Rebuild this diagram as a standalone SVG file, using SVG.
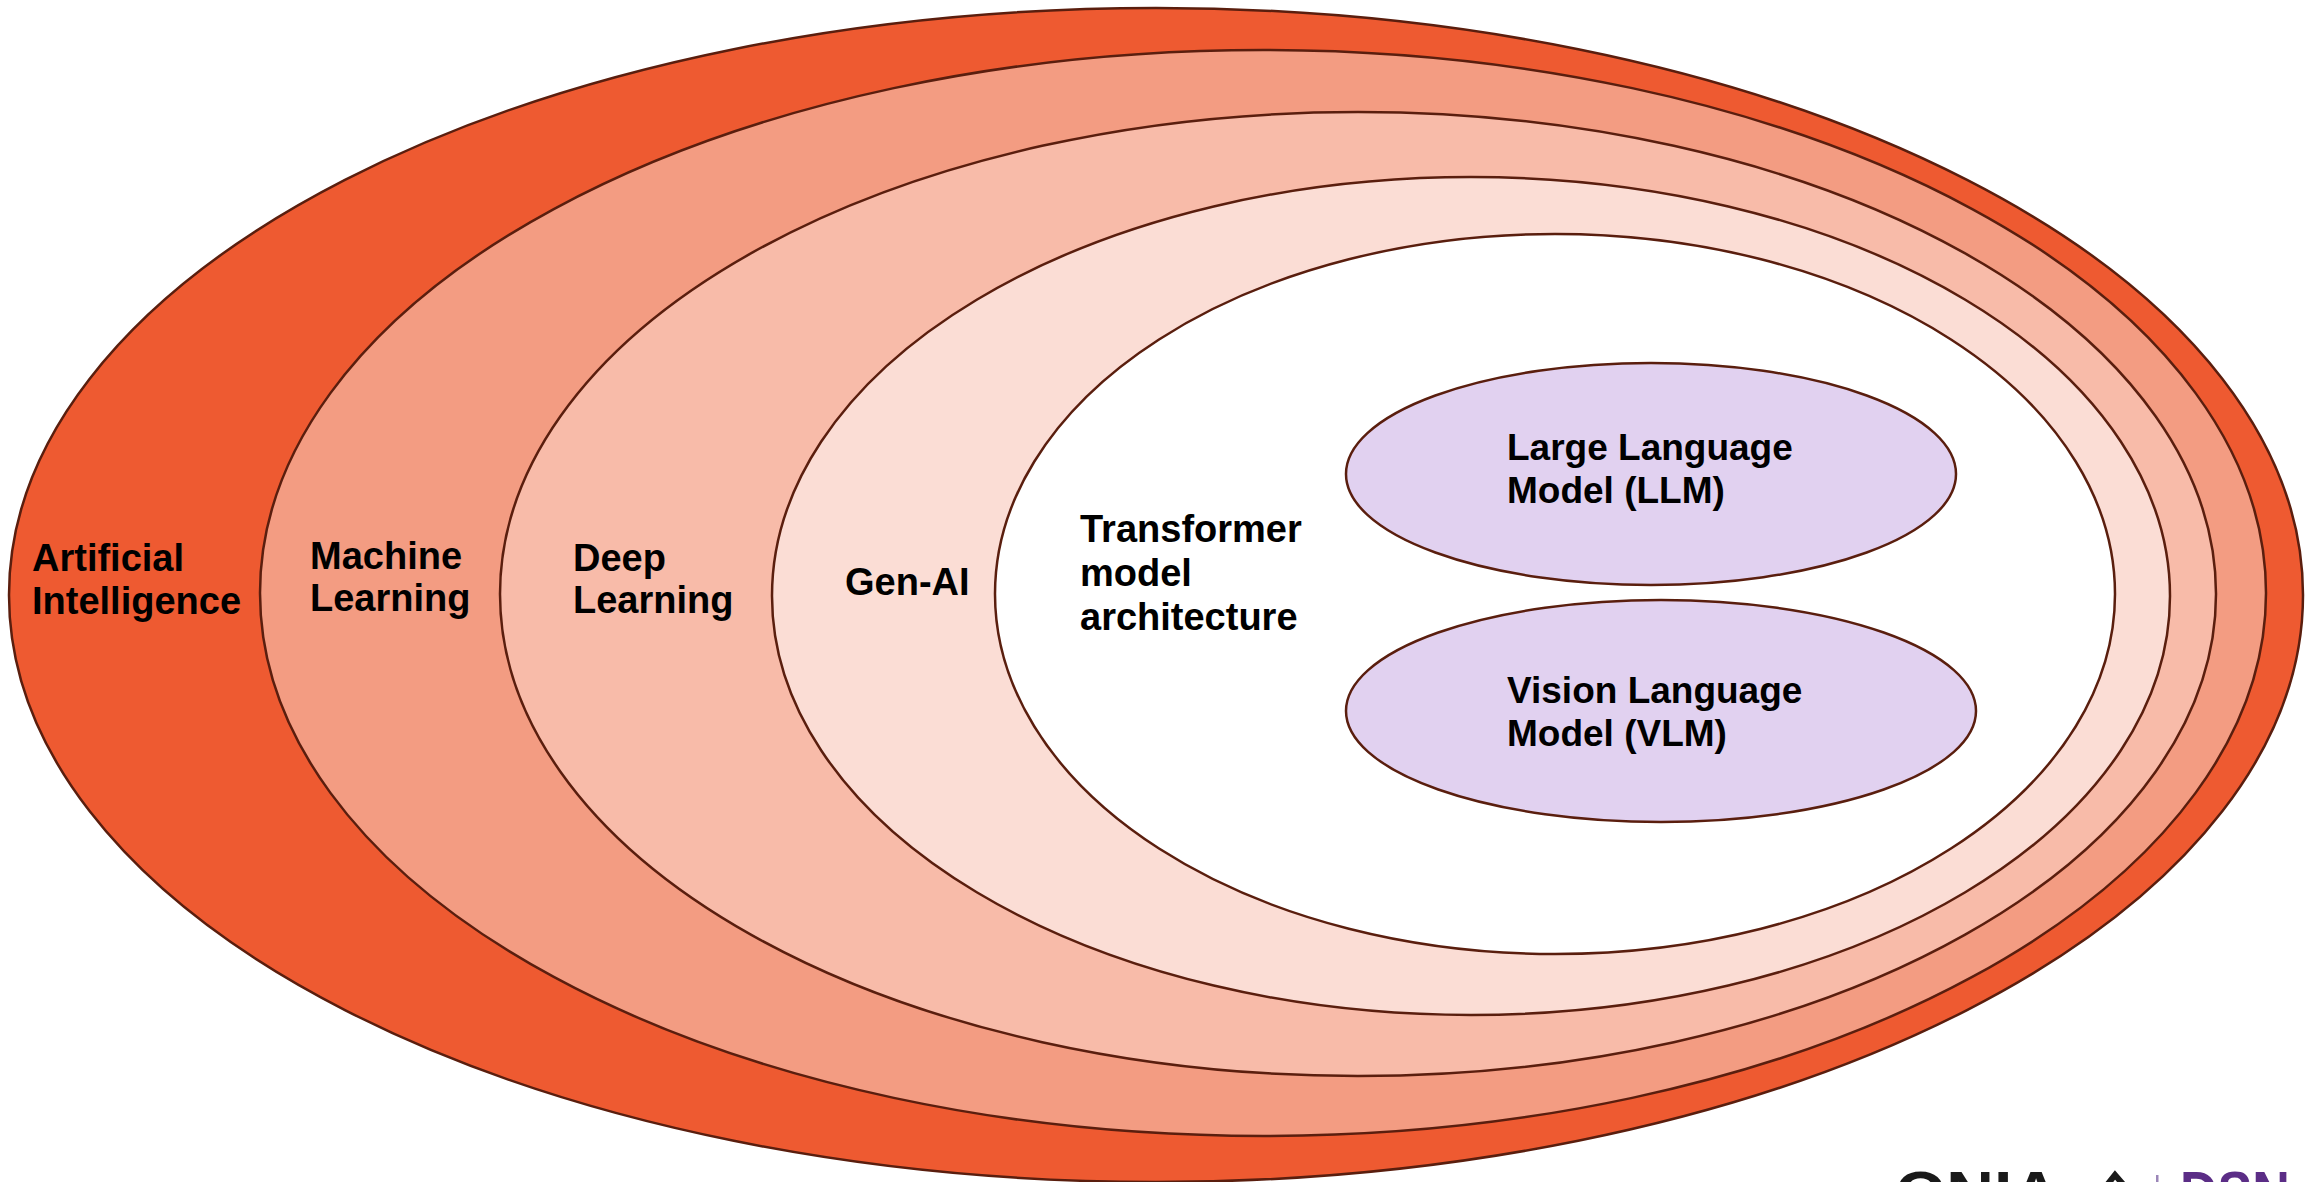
<svg xmlns="http://www.w3.org/2000/svg" width="2318" height="1182" viewBox="0 0 2318 1182">
  <style>
    .ring { stroke: #5a1e0e; stroke-width: 2.5; }
    .lbl { font-family: "Liberation Sans", Arial, sans-serif; font-weight: bold; fill: #000; font-size: 38px; }
    .sm { font-size: 37px; }
  </style>
  <rect width="2318" height="1182" fill="#ffffff"/>
  <g id="ai">
    <ellipse class="ring" cx="1156" cy="595" rx="1147" ry="587" fill="#ee5a31"/>
    <text class="lbl" x="32" y="571">Artificial</text>
    <text class="lbl" x="32" y="614">Intelligence</text>
  </g>
  <g id="ml">
    <ellipse class="ring" cx="1263" cy="593" rx="1003" ry="543" fill="#f39c82"/>
    <text class="lbl" x="310" y="569">Machine</text>
    <text class="lbl" x="310" y="611">Learning</text>
  </g>
  <g id="dl">
    <ellipse class="ring" cx="1358" cy="594" rx="858" ry="482" fill="#f8bba9"/>
    <text class="lbl" x="573" y="571">Deep</text>
    <text class="lbl" x="573" y="613">Learning</text>
  </g>
  <g id="genai">
    <ellipse class="ring" cx="1471" cy="596" rx="699" ry="419" fill="#fbddd5"/>
    <text class="lbl" x="845" y="595">Gen-AI</text>
  </g>
  <g id="transformer">
    <ellipse class="ring" cx="1555" cy="594" rx="560" ry="360" fill="#ffffff"/>
    <text class="lbl" x="1080" y="542">Transformer</text>
    <text class="lbl" x="1080" y="586">model</text>
    <text class="lbl" x="1080" y="630">architecture</text>
  </g>
  <g id="llm">
    <ellipse class="ring" cx="1651" cy="474" rx="305" ry="111" fill="#e1d1f0"/>
    <text class="lbl sm" x="1507" y="460">Large Language</text>
    <text class="lbl sm" x="1507" y="503">Model (LLM)</text>
  </g>
  <g id="vlm">
    <ellipse class="ring" cx="1661" cy="711" rx="315" ry="111" fill="#e1d1f0"/>
    <text class="lbl sm" x="1507" y="703">Vision Language</text>
    <text class="lbl sm" x="1507" y="746">Model (VLM)</text>
  </g>
  <g id="connectors"></g>
  <g id="logo">
    <text x="1895" y="1213" font-family="Liberation Sans, Arial, sans-serif" font-weight="bold" font-size="60" fill="#1a1a1a" textLength="165" lengthAdjust="spacingAndGlyphs">ONIA</text>
    <polyline points="2103,1190 2115,1175 2128,1190" fill="none" stroke="#1a1a1a" stroke-width="6"/>
    <rect x="2156" y="1175" width="2.5" height="20" fill="#9b86b8"/>
    <text x="2180" y="1213" font-family="Liberation Sans, Arial, sans-serif" font-weight="bold" font-size="60" fill="#5b2d86" textLength="110" lengthAdjust="spacingAndGlyphs">DSN</text>
  </g>
</svg>
